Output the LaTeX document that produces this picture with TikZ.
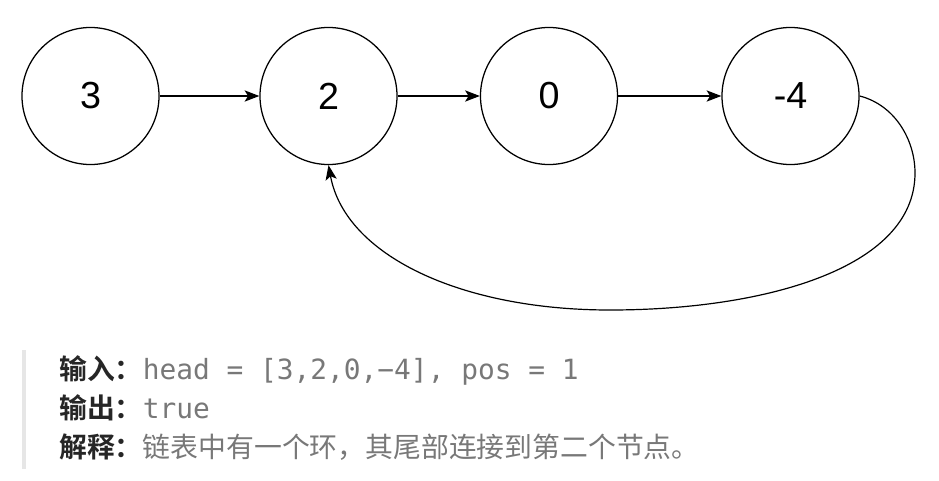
\documentclass[tikz,border=0pt]{standalone}
\usepackage{fontspec}
\usepackage{xcolor}
\usepackage{tikz}
\usetikzlibrary{arrows.meta, positioning}

\setmainfont{Liberation Sans}
\newfontfamily\cjkfont{Noto Sans CJK SC}
\newfontfamily\cjkbold{Noto Sans CJK SC Bold}
\newfontfamily\codefont{DejaVu Sans Mono}

\definecolor{labeltext}{HTML}{262626}
\definecolor{valuetext}{HTML}{787878}
\definecolor{quotebar}{HTML}{E6E6E6}

\begin{document}
\begin{tikzpicture}[
  x=0.025cm, y=-0.025cm,
  listnode/.style = {circle, draw=black, line width=0.9pt, minimum size=3.425cm,
                     inner sep=0pt, font=\fontsize{26.8}{30}\selectfont},
  link/.style = {-{Stealth[length=10.5pt,width=8pt,inset=2.5pt]}, line width=0.85pt, black},
  textline/.style = {anchor=base west, inner sep=0pt,
                     font=\fontsize{19.8}{24}\selectfont},
]
  \useasboundingbox (0,0) rectangle (939,480);

  % the list
  \node[listnode] (n1) at (90.5,96)  {3};
  \node[listnode] (n2) at (328.5,96) {2};
  \node[listnode] (n3) at (549,96)   {0};
  \node[listnode] (n4) at (790.5,96) {-4};

  \draw[link] (n1) -- (n2);
  \draw[link] (n2) -- (n3);
  \draw[link] (n3) -- (n4);

  % the cycle back to the second node
  \coordinate (loopR) at (915,173);
  \coordinate (loopB) at (610,310);
  \draw[link] (n4.east) .. controls (895,105) and (915,140) .. (loopR)
    .. controls (915,270) and (760,310) .. (loopB)
    .. controls (460,310) and (345,255) .. (n2.south);

  % the example text
  \fill[quotebar] (22,350) rectangle (25.5,469);
  \node[textline] (input) at (59,379)
    {\color{labeltext}\cjkbold 输入：\color{valuetext}\codefont head = [3,2,0,−4], pos = 1};
  \node[textline] (output) at (59,418)
    {\color{labeltext}\cjkbold 输出：\color{valuetext}\codefont true};
  \node[textline] (explain) at (59,457)
    {\color{labeltext}\cjkbold 解释：\color{valuetext}\cjkfont 链表中有一个环，其尾部连接到第二个节点。};
\end{tikzpicture}
\end{document}
